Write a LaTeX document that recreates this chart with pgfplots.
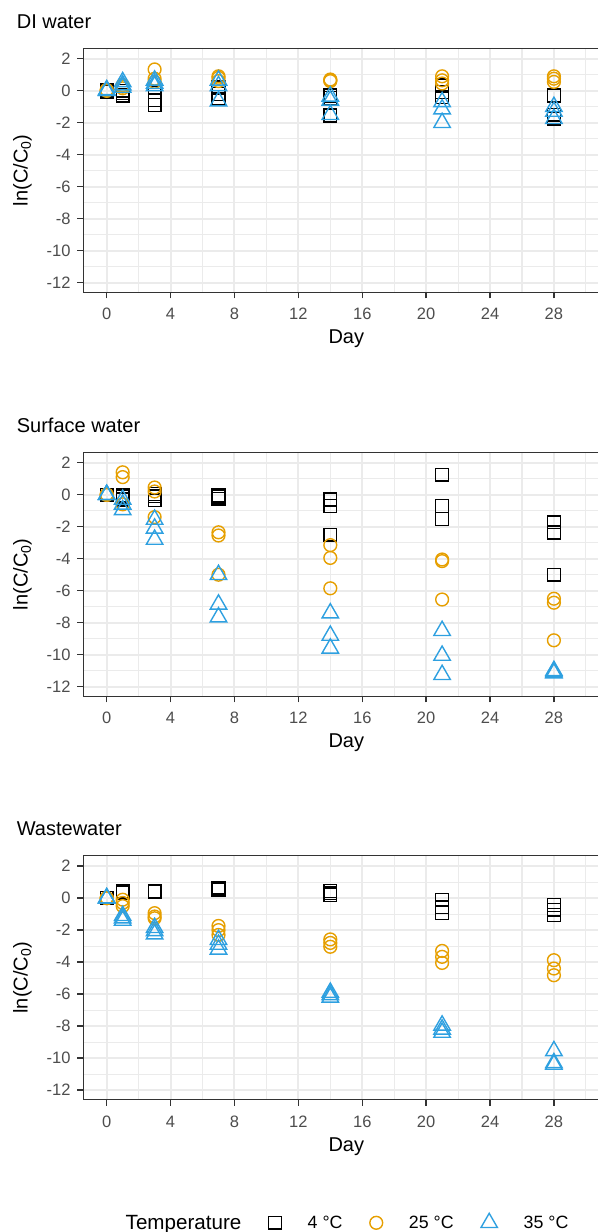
\documentclass[border=0pt]{standalone}
\usepackage{pgfplots}
\pgfplotsset{compat=1.18}
\usepackage{fontspec}
\setmainfont{Liberation Sans}
\definecolor{cA}{HTML}{000000}
\definecolor{cB}{HTML}{E69F00}
\definecolor{cC}{HTML}{2EA0E0}
\definecolor{tickgray}{HTML}{4D4D4D}
\definecolor{bordergray}{HTML}{333333}
\definecolor{gridc}{HTML}{EBEBEB}
\newcommand{\tickfont}{\fontsize{16.5}{19}\selectfont}
\newcommand{\titlefont}{\fontsize{20}{24}\selectfont}
\pgfplotsset{
  panel/.style={
    scale only axis, width=514.7pt, height=244pt, anchor=north west,
    xmin=-1.465, xmax=30.76, ymin=-12.6, ymax=2.65,
    xtick={0,4,8,12,16,20,24,28}, xticklabels={0,4,8,12,16,20,24,28},
    ytick={-12,-10,-8,-6,-4,-2,0,2}, yticklabels={-12,-10,-8,-6,-4,-2,0,2},
    minor xtick={2,6,10,14,18,22,26,30}, minor ytick={-11,-9,-7,-5,-3,-1,1},
    grid=both,
    major grid style={line width=2pt, draw=gridc},
    minor grid style={line width=1.1pt, draw=gridc},
    axis line style={draw=none},
    tick pos=left, tick align=outside,
    major tick length=6pt, minor tick length=0pt,
    every tick/.style={draw=bordergray, line width=1.4pt},
    xticklabel style={font=\tickfont, text=tickgray, anchor=base, inner sep=0pt, yshift=-21.4pt},
    yticklabel style={font=\tickfont, text=tickgray, anchor=east, inner sep=0pt, xshift=-6.6pt},
    clip=false,
  },
  sq/.style={only marks, color=cA, mark=square, mark size=6.4pt, mark options={line width=1.4pt, solid, fill=none}},
  ci/.style={only marks, color=cB, mark=o, mark size=6.4pt, mark options={line width=1.4pt, solid, fill=none}},
  tr/.style={only marks, color=cC, mark=triangle, mark size=9.5pt, mark options={line width=1.4pt, solid, fill=none}},
}
\newcommand{\border}{\draw[bordergray, line width=1.3pt] (rel axis cs:1,1) -- (rel axis cs:0,1) -- (rel axis cs:0,0) -- (rel axis cs:1,0);}
\begin{document}
\begin{tikzpicture}
\useasboundingbox (0pt,0pt) rectangle (598pt,-1232pt);
% ---------------- DI water
\begin{axis}[panel, at={(83.3pt,-48.3pt)}]
\addplot[sq] coordinates {(0,0)(0,-0.05)(0,0.05) (1,0.0)(1,-0.15)(1,-0.3) (3,-0.1)(3,-0.6)(3,-0.9) (7,0.2)(7,-0.2)(7,-0.5) (14,-0.3)(14,-0.45)(14,-1.55) (21,0.33)(21,-0.08)(21,-0.4) (28,-0.3)(28,-1.5)(28,-1.75)};
\addplot[ci] coordinates {(0,0)(0,0)(0,0.05) (1,0.35)(1,0.25)(1,0.15) (3,1.33)(3,0.75)(3,0.55) (7,0.9)(7,0.8)(7,0.6) (14,0.7)(14,0.6)(14,0.65) (21,0.9)(21,0.65)(21,0.45) (28,0.9)(28,0.75)(28,0.55)};
\addplot[tr] coordinates {(0,0.05)(0,0)(0,0) (1,0.55)(1,0.35)(1,0.2) (3,0.65)(3,0.45)(3,0.3) (7,0.65)(7,0.3)(7,-0.65) (14,-0.35)(14,-0.6)(14,-1.5) (21,-0.7)(21,-1.15)(21,-2.0) (28,-1.0)(28,-1.3)(28,-1.75)};
\border
\end{axis}
% ---------------- Surface water
\begin{axis}[panel, at={(83.3pt,-452.3pt)}]
\addplot[sq] coordinates {(0,0)(0,0)(0,0) (1,-0.05)(1,-0.15)(1,-0.3) (3,0.05)(3,-0.1)(3,-0.35) (7,-0.05)(7,-0.15)(7,-0.25) (14,-0.3)(14,-0.7)(14,-2.5) (21,1.25)(21,-0.7)(21,-1.52) (28,-1.73)(28,-2.36)(28,-5.0)};
\addplot[ci] coordinates {(0,0)(0,0)(0,0) (1,1.4)(1,1.1)(1,-0.6) (3,0.45)(3,0.2)(3,-1.4) (7,-2.35)(7,-2.55)(7,-5.0) (14,-3.15)(14,-3.95)(14,-5.85) (21,-4.05)(21,-4.15)(21,-6.55) (28,-6.5)(28,-6.75)(28,-9.1)};
\addplot[tr] coordinates {(0,0)(0,0)(0,0) (1,-0.3)(1,-0.6)(1,-0.95) (3,-1.55)(3,-2.1)(3,-2.8) (7,-5.0)(7,-6.85)(7,-7.65) (14,-7.4)(14,-8.8)(14,-9.6) (21,-8.5)(21,-10.05)(21,-11.25) (28,-11.0)(28,-11.08)(28,-11.15)};
\border
\end{axis}
% ---------------- Wastewater
\begin{axis}[panel, at={(83.3pt,-855.7pt)},
  legend columns=-1, legend cell align=left,
  legend style={at={(axis description cs:0.0309,-0.501)}, anchor=west, draw=none, fill=none, inner sep=0pt,
    font=\fontsize{17.8}{20}\selectfont, nodes={inner sep=0pt},
    /tikz/every odd column/.append style={column sep=26.3pt},
    /tikz/every even column/.append style={column sep=27.3pt}}]
\addlegendimage{empty legend}
\addlegendentry{\fontsize{20.6}{24}\selectfont Temperature}
\addplot[sq] coordinates {(0,0)(0,0)(0,0) (1,0.45)(1,0.4)(1,0.35) (3,0.45)(3,0.4)(3,0.38) (7,0.65)(7,0.58)(7,0.5) (14,0.45)(14,0.3)(14,0.2) (21,-0.1)(21,-0.57)(21,-0.94) (28,-0.42)(28,-0.73)(28,-1.05)};
\addlegendentry{4 °C}
\addplot[ci] coordinates {(0,0)(0,0)(0,0) (1,-0.1)(1,-0.3)(1,-0.5) (3,-0.94)(3,-1.15)(3,-1.26) (7,-1.74)(7,-2.0)(7,-2.3) (14,-2.58)(14,-2.8)(14,-3.04) (21,-3.3)(21,-3.67)(21,-4.05) (28,-3.88)(28,-4.4)(28,-4.82)};
\addlegendentry{25 °C}
\addplot[tr] coordinates {(0,0)(0,0)(0,0) (1,-1.1)(1,-1.25)(1,-1.4) (3,-1.85)(3,-2.05)(3,-2.25) (7,-2.6)(7,-2.9)(7,-3.2) (14,-5.9)(14,-6.05)(14,-6.2) (21,-7.95)(21,-8.2)(21,-8.4) (28,-9.55)(28,-10.3)(28,-10.4)};
\addlegendentry{35 °C}
\border
\end{axis}
% ---------------- titles and labels
\node[anchor=base west, font=\titlefont] at (13.3pt,-28.3pt) {DI water};
\node[anchor=base west, font=\titlefont] at (13.3pt,-432.3pt) {Surface water};
\node[anchor=base west, font=\titlefont] at (13.3pt,-835.7pt) {Wastewater};
\node[anchor=base, font=\titlefont] at (346.3pt,-343.7pt) {Day};
\node[anchor=base, font=\titlefont] at (346.3pt,-747.7pt) {Day};
\node[anchor=base, font=\titlefont] at (346.3pt,-1151.1pt) {Day};
\node[rotate=90, font=\titlefont] at (22.5pt,-170.3pt) {ln(C/C\textsubscript{0})};
\node[rotate=90, font=\titlefont] at (22.5pt,-574.3pt) {ln(C/C\textsubscript{0})};
\node[rotate=90, font=\titlefont] at (22.5pt,-977.7pt) {ln(C/C\textsubscript{0})};
\end{tikzpicture}
\end{document}
